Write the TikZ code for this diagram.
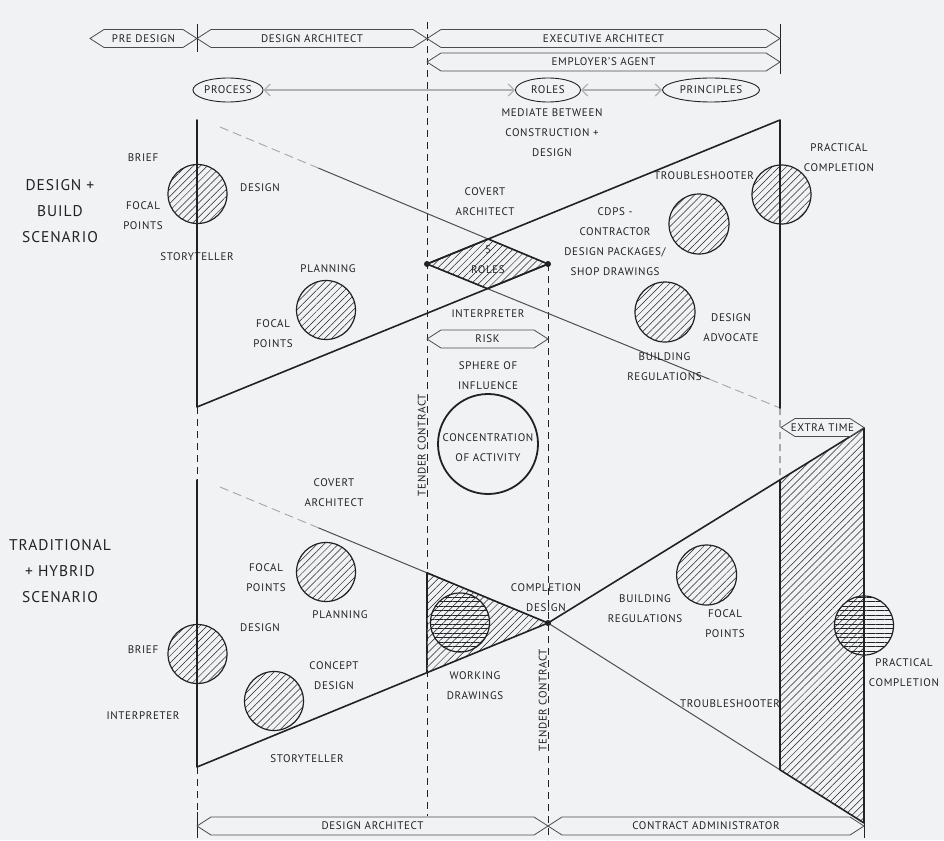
\documentclass[tikz,border=0pt]{standalone}
\usepackage{fontspec}
\setmainfont{PT Sans}[LetterSpace=6]
\usetikzlibrary{shapes.geometric,patterns.meta,arrows.meta,calc}
\definecolor{paper}{RGB}{241,242,244}
\definecolor{ink}{RGB}{34,34,34}
\tikzset{
	lbl/.style={font=\fontsize{11}{20}\selectfont, text=ink, align=center, inner sep=1pt},
	title/.style={font=\fontsize{15.5}{26}\selectfont, text=ink, align=center},
	edge/.style={draw=ink, line width=1.6pt, line cap=round, line join=round},
	slant/.style={draw=ink!80, line width=1pt},
	faint/.style={draw=black!35, line width=0.9pt, dash pattern=on 9pt off 5pt},
	guide/.style={draw=ink, line width=0.7pt, dash pattern=on 7pt off 5pt},
	phase/.style={draw=black!70, line width=0.8pt, fill=paper},
	hatch/.style={pattern={Lines[angle=45,distance=5pt,line width=0.5pt]}, pattern color=ink},
	hatchball/.style={circle, draw=ink, line width=1.2pt, minimum size=59pt, inner sep=0pt, hatch},
	flatball/.style={circle, draw=ink, line width=1.2pt, minimum size=59pt, inner sep=0pt, pattern={Lines[angle=0,distance=4.5pt,line width=0.5pt]}, pattern color=ink},
	bubble/.style={ellipse, draw=ink, line width=0.9pt, minimum height=24pt, inner sep=1pt, font=\fontsize{11}{12}\selectfont, text=ink},
	soft/.style={draw=black!30, line width=1.2pt, {Straight Barb[length=6pt,width=12pt]}-{Straight Barb[length=6pt,width=12pt]}},
	dot/.style={circle, fill=ink, inner sep=0pt, minimum size=6pt}
}
\newcommand{\phasebox}[5]{%
	\draw[phase] (#2,#4) -- (#2+14,#4-9) -- (#3-14,#4-9) -- (#3,#4) -- (#3-14,#4+9) -- (#2+14,#4+9) -- cycle;
	\node[lbl] (#1) at ({(#2+#3)/2},#4) {#5};
}

\begin{document}
\begin{tikzpicture}[x=1pt,y=-1pt]
	\fill[paper] (0,0) rectangle (944,840);
	\useasboundingbox (0,0) rectangle (944,840);

	\coordinate (uTL) at (197,120);
	\coordinate (uBL) at (197,407);
	\coordinate (uTR) at (780,120);
	\coordinate (uBR) at (780,408);
	\coordinate (uS) at (220,127);
	\coordinate (dL) at (427,264);
	\coordinate (dR) at (548,264);
	\coordinate (dT) at (intersection of uS--dR and dL--uTR);
	\coordinate (dB) at (intersection of dL--uBR and uBL--dR);
	\coordinate (lTL) at (197,480);
	\coordinate (lBL) at (197,767);
	\coordinate (lS) at (220,487);
	\coordinate (lC) at (548,623);
	\coordinate (rTop) at (864,428);
	\coordinate (rBot) at (864,823);
	\coordinate (wTop) at ($(lS)!0.631!(lC)$);
	\coordinate (wBot) at ($(lBL)!0.655!(lC)$);
	\coordinate (rUp) at ($(lC)!0.734!(rTop)$);
	\coordinate (rLo) at ($(lC)!0.734!(rBot)$);

	\fill[hatch] (dL) -- (dT) -- (dR) -- (dB) -- cycle;
	\fill[hatch] (wTop) -- (lC) -- (wBot) -- cycle;
	\fill[hatch] (rUp) -- (rTop) -- (rBot) -- (rLo) -- cycle;

	\draw[guide] (427,22) -- (427,816);
	\draw[guide] (dR) -- (548,840);
	\foreach \a/\b in {407/480,767/816}
		\draw[guide] (197,\a) -- (197,\b);
	\draw[guide] (uBR) -- (rUp);

	\draw[faint] (uS) -- ($(uS)!0.3!(dR)$);
	\draw[slant] ($(uS)!0.3!(dR)$) -- (dR);
	\draw[slant] (dL) -- ($(dL)!0.8!(uBR)$);
	\draw[faint] ($(dL)!0.8!(uBR)$) -- (uBR);
	\draw[faint] (lS) -- ($(lS)!0.3!(lC)$);
	\draw[slant] ($(lS)!0.3!(lC)$) -- (lC) -- (rLo);
	\draw[edge] (uTL) -- (uBL) -- (dR);
	\draw[edge] (dL) -- (uTR) -- (uBR);
	\draw[edge] (dL) -- (dT) -- (dR) -- (dB) -- cycle;
	\draw[edge] (lTL) -- (lBL) -- (lC) -- (rTop) -- (rBot) -- (rLo) -- (rUp);
	\draw[edge] (wTop) -- (lC);
	\draw[edge] (wTop) -- (wBot);
	\node[dot] (pL) at (dL) {};
	\node[dot] (pR) at (dR) {};
	\node[dot] (pC) at (lC) {};

	\node[hatchball] (briefU) at (197.5,194) {};
	\node[hatchball] (planU) at (326,310) {};
	\node[hatchball] (pracU) at (781.5,194.5) {};
	\node[hatchball, minimum size=60pt] (cdps) at (699,224) {};
	\node[hatchball, minimum size=60pt] (advoc) at (665,312) {};
	\node[hatchball] (planL) at (326,572) {};
	\node[hatchball] (briefL) at (197.5,654) {};
	\node[hatchball] (concept) at (274,701) {};
	\node[hatchball, minimum size=60pt] (focalR) at (706.6,575) {};
	\node[flatball] (wd) at (460,622.5) {};
	\node[flatball] (pracL) at (864,625.5) {};
	\node[circle, draw=ink, line width=1.8pt, minimum size=100pt, inner sep=0pt] (focus) at (488,444) {};

	\node[bubble, minimum width=66pt] (process) at (228,90) {PROCESS};
	\node[bubble, minimum width=65pt] (roles) at (548,90) {ROLES};
	\node[bubble, minimum width=97pt] (principles) at (711,90) {PRINCIPLES};
	\draw[soft] (process) -- (roles);
	\draw[soft] (roles) -- (principles);

	\draw[ink, line width=0.8pt] (197,24) -- (197,52);
	\draw[ink, line width=0.8pt] (780,24) -- (780,74);
	\draw[ink, line width=0.8pt] (197,812) -- (197,838);
	\draw[ink, line width=0.8pt] (rBot) -- (864,838);
	\phasebox{pre}{90}{197}{38.5}{PRE DESIGN}
	\phasebox{designer}{197}{427}{38.5}{DESIGN ARCHITECT}
	\phasebox{executive}{427}{780}{38.5}{EXECUTIVE ARCHITECT}
	\phasebox{agent}{427}{780}{62}{EMPLOYER’S AGENT}
	\phasebox{risk}{427}{548}{339}{RISK}
	\phasebox{extra}{781}{864}{427.5}{EXTRA TIME}
	\phasebox{designerB}{197}{548}{826}{DESIGN ARCHITECT}
	\phasebox{admin}{548}{864}{826}{CONTRACT ADMINISTRATOR}

	\foreach \n/\x/\y/\t in {briefA/143/158/BRIEF, designA/260/188/DESIGN, storyA/197/257/STORYTELLER, planA/328/269/PLANNING, troubleA/704/176/TROUBLESHOOTER, five/488/250/5, rolesA/488/270/ROLES, interpA/488/314/INTERPRETER, planB/340/615/PLANNING, designB/260/628/DESIGN, briefB/143/650/BRIEF, interpB/143/716/INTERPRETER, storyB/307/759/STORYTELLER, troubleB/730/704/TROUBLESHOOTER}
		\node[lbl] (\n) at (\x,\y) {\t};

	\node[title] (scenA) at (60,211) {DESIGN +\\BUILD\\SCENARIO};
	\node[title] (scenB) at (60,571) {TRADITIONAL\\+ HYBRID\\SCENARIO};
	\node[lbl] (mediate) at (552,133) {MEDIATE BETWEEN\\CONSTRUCTION +\\DESIGN};
	\node[lbl] (covertA) at (485,202) {COVERT\\ARCHITECT};
	\node[lbl] (focalA) at (143,215.5) {FOCAL\\POINTS};
	\node[lbl] (focalB) at (273,333.5) {FOCAL\\POINTS};
	\node[lbl] (practA) at (839,157.5) {PRACTICAL\\COMPLETION};
	\node[lbl] (cdpsText) at (615,241.5) {CDPS -\\CONTRACTOR\\DESIGN PACKAGES/\\SHOP DRAWINGS};
	\node[lbl] (advocText) at (731,327.7) {DESIGN\\ADVOCATE};
	\node[lbl] (regsA) at (664.5,367) {BUILDING\\REGULATIONS};
	\node[lbl] (sphere) at (488,376) {SPHERE OF\\INFLUENCE};
	\node[lbl] (activity) at (488,447.5) {CONCENTRATION\\OF ACTIVITY};
	\node[lbl, rotate=90, anchor=south] (tenderA) at (427,445) {TENDER CONTRACT};
	\node[lbl, rotate=90, anchor=south] (tenderB) at (548,700) {TENDER CONTRACT};
	\node[lbl] (covertB) at (334,492.5) {COVERT\\ARCHITECT};
	\node[lbl] (focalC) at (266,578) {FOCAL\\POINTS};
	\node[lbl] (conceptText) at (334,675.5) {CONCEPT\\DESIGN};
	\node[lbl] (complDesign) at (546,597.7) {COMPLETION\\DESIGN};
	\node[lbl] (working) at (475,686) {WORKING\\DRAWINGS};
	\node[lbl] (regsB) at (645,609) {BUILDING\\REGULATIONS};
	\node[lbl] (focalD) at (725,624) {FOCAL\\POINTS};
	\node[lbl] (practB) at (904,673) {PRACTICAL\\COMPLETION};
\end{tikzpicture}
\end{document}
